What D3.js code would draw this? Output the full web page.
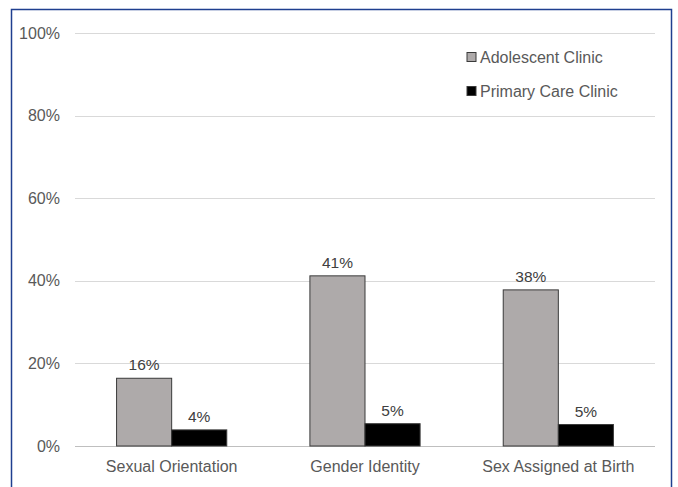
<!DOCTYPE html>
<meta charset="utf-8">
<style>
    body { margin: 0; background: #fff; }
    text { font-family: "Liberation Sans", Arial, sans-serif; }
</style>
<script src="https://d3js.org/d3.v7.min.js"></script>
<svg width="678" height="487"></svg>
<script>
    var categories = ["Sexual Orientation", "Gender Identity", "Sex Assigned at Birth"];
    var series = ["Adolescent Clinic", "Primary Care Clinic"];
    var adolescent = [16.4, 41.2, 37.8];
    var primaryCare = [3.9, 5.4, 5.2];
    var labels = [["16%", "4%"], ["41%", "5%"], ["38%", "5%"]];
    var yTicks = [0, 20, 40, 60, 80, 100];

    var svg = d3.select("svg"),
        plotLeft = 75, plotRight = 655, plotTop = 33, plotBottom = 446;

    // frame round the figure
    svg.append("path")
        .attr("d", "M11.5,487 V9.5 H671.5 V487")
        .attr("fill", "none")
        .attr("stroke", "#1f3f8f")
        .attr("stroke-width", 1.5);

    var y = d3.scaleLinear().domain([0, 100]).range([plotBottom, plotTop]);
    var x0 = d3.scaleBand().domain(categories).range([plotLeft, plotRight])
        .paddingInner(0.43).paddingOuter(0.215);
    var x1 = d3.scaleBand().domain(series).range([0, x0.bandwidth()]);
    var color = d3.scaleOrdinal().domain(series).range(["#aeaaaa", "#000000"]);

    svg.append("g")
        .selectAll("line")
        .data(yTicks)
        .enter().append("line")
        .attr("x1", plotLeft).attr("x2", plotRight)
        .attr("y1", function (d) { return Math.round(y(d)) + 0.5; })
        .attr("y2", function (d) { return Math.round(y(d)) + 0.5; })
        .attr("stroke", function (d) { return d === 0 ? "#bfbfbf" : "#d9d9d9"; })
        .attr("stroke-width", 1.2);

    svg.append("g")
        .selectAll("text")
        .data(yTicks)
        .enter().append("text")
        .attr("x", 60)
        .attr("y", function (d) { return y(d); })
        .attr("dy", "0.35em")
        .attr("text-anchor", "end")
        .attr("font-size", 16)
        .attr("fill", "#595959")
        .text(function (d) { return d + "%"; });

    var rows = categories.map(function (c, i) {
        return [
            { cat: c, s: series[0], v: adolescent[i], label: labels[i][0] },
            { cat: c, s: series[1], v: primaryCare[i], label: labels[i][1] }
        ];
    });

    var group = svg.append("g")
        .selectAll("g")
        .data(rows)
        .enter().append("g")
        .attr("transform", function (d) { return "translate(" + x0(d[0].cat) + ",0)"; });

    group.selectAll("rect")
        .data(function (d) { return d; })
        .enter().append("rect")
        .attr("x", function (d) { return x1(d.s); })
        .attr("y", function (d) { return y(d.v); })
        .attr("width", x1.bandwidth())
        .attr("height", function (d) { return plotBottom - y(d.v); })
        .attr("fill", function (d) { return color(d.s); })
        .attr("stroke", "#3a3a3a")
        .attr("stroke-width", 1);

    group.selectAll("text")
        .data(function (d) { return d; })
        .enter().append("text")
        .attr("x", function (d) { return x1(d.s) + x1.bandwidth() / 2; })
        .attr("y", function (d) { return y(d.v) - 8; })
        .attr("text-anchor", "middle")
        .attr("font-size", 15.5)
        .attr("fill", "#404040")
        .text(function (d) { return d.label; });

    svg.append("g")
        .selectAll("text")
        .data(categories)
        .enter().append("text")
        .attr("x", function (d) { return x0(d) + x0.bandwidth() / 2; })
        .attr("y", 472)
        .attr("text-anchor", "middle")
        .attr("font-size", 16)
        .attr("fill", "#595959")
        .text(function (d) { return d; });

    // legend
    var legend = svg.append("g")
        .selectAll("g")
        .data(series)
        .enter().append("g")
        .attr("transform", function (d, i) { return "translate(467," + (57 + i * 34) + ")"; });

    legend.append("rect")
        .attr("x", 0).attr("y", -4.5)
        .attr("width", 9).attr("height", 9)
        .attr("fill", function (d) { return color(d); })
        .attr("stroke", "#3a3a3a")
        .attr("stroke-width", 1);

    legend.append("text")
        .attr("x", 13)
        .attr("dy", "0.35em")
        .attr("font-size", 16)
        .attr("fill", "#595959")
        .text(function (d) { return d; });
</script>
